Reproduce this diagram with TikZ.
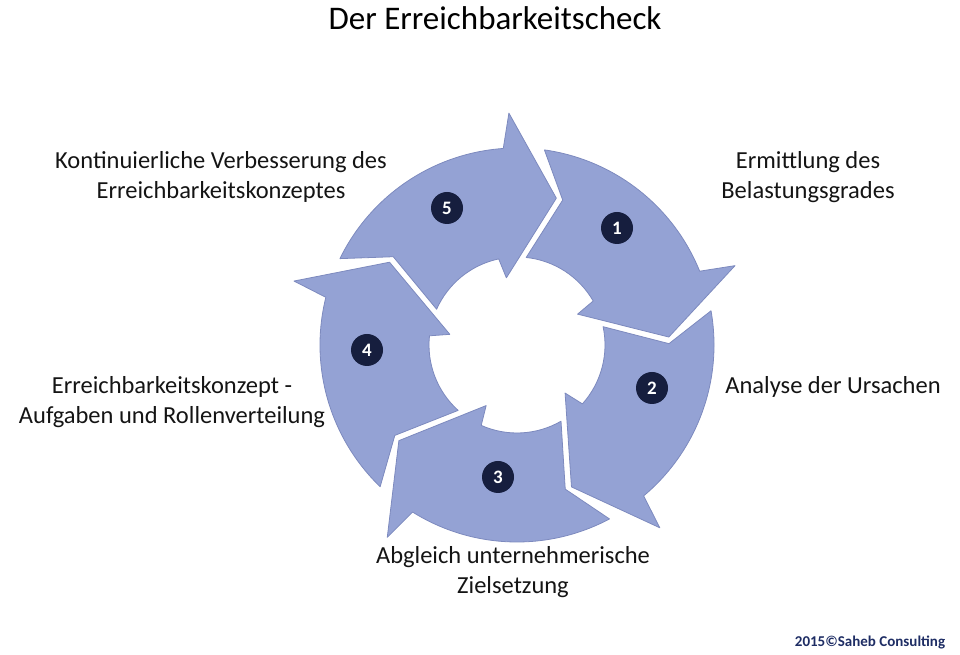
\documentclass[tikz,border=0pt]{standalone}
\usepackage{fontspec}
\setmainfont{Carlito}
\usetikzlibrary{calc}
\begin{document}
\begin{tikzpicture}[x=1pt,y=1pt,
  seg/.style={fill={rgb,255:red,148;green,162;blue,212},draw={rgb,255:red,125;green,138;blue,190},line width=0.8pt,line join=round},
  num/.style={circle,fill={rgb,255:red,22;green,30;blue,62},text=white,font=\bfseries\fontsize{19}{19}\selectfont,minimum size=32pt,inner sep=0pt},
  lab/.style={align=center,font=\fontsize{24.5}{30}\selectfont,text={rgb,255:red,20;green,20;blue,20}}]
\useasboundingbox (0,0) rectangle (960,655);
\coordinate (C) at (517,310);
\def\R{197}\def\r{88}
\foreach \k in {0,1,2,3,4}{
  \pgfmathsetmacro\a{-3-72*\k}
  \pgfmathsetmacro\s{85+\a}\pgfmathsetmacro\si{87+\a}\pgfmathsetmacro\nt{75.5+\a}
  \pgfmathsetmacro\ho{25+\a}\pgfmathsetmacro\hi{33+\a}
  \pgfmathsetmacro\po{23+\a}\pgfmathsetmacro\tp{6+\a}\pgfmathsetmacro\pin{30+\a}
  \draw[seg] ($(C)+(\s:\R)$) arc[start angle=\s,end angle=\ho,radius=\R]
    -- ($(C)+(\po:232)$) -- ($(C)+(\tp:152)$) -- ($(C)+(\pin:68)$) -- ($(C)+(\hi:\r)$)
    arc[start angle=\hi,end angle=\si,radius=\r] -- ($(C)+(\nt:152)$) -- cycle;
}
\node[num] (n1) at (617,427) {1};
\node[num] (n2) at (652,267) {2};
\node[num] (n3) at (498,178) {3};
\node[num] (n4) at (367,305) {4};
\node[num] (n5) at (447,447) {5};
\node[font=\fontsize{33}{36}\selectfont] (t) at (495,637) {Der Erreichbarkeitscheck};
\node[lab] (l1) at (808,478) {Ermittlung des\\Belastungsgrades};
\node[lab] (l2) at (833,268) {Analyse der Ursachen};
\node[lab] (l3) at (513,83) {Abgleich unternehmerische\\Zielsetzung};
\node[lab] (l4) at (172,253) {Erreichbarkeitskonzept -\\Aufgaben und Rollenverteilung};
\node[lab] (l5) at (221,478) {Kontinuierliche Verbesserung des\\Erreichbarkeitskonzeptes};
\node[font=\bfseries\fontsize{15}{15}\selectfont,text={rgb,255:red,30;green,45;blue,100}] (cp) at (870,13) {2015©Saheb Consulting};
\end{tikzpicture}
\end{document}
